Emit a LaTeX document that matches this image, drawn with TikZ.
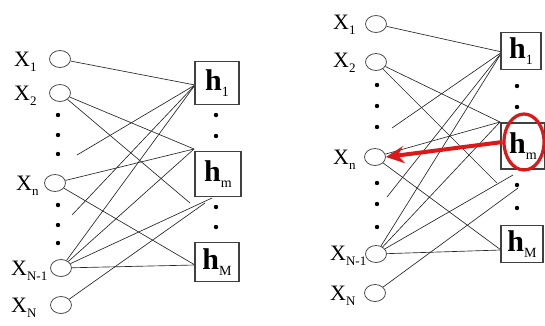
\documentclass[tikz,border=0pt]{standalone}
\usepackage{fontspec}
\setmainfont{Liberation Serif}
\usetikzlibrary{shapes.geometric,arrows.meta}
\tikzset{
  unitbox/.style={draw=black!75, line width=1.1pt, rectangle, inner sep=0pt, fill=white},
  neuron/.style={draw=black!70, line width=0.8pt, ellipse, minimum width=21pt, minimum height=17pt, inner sep=0pt},
  link/.style={draw=black!85, line width=0.65pt},
  dotmark/.style={fill=black, circle, inner sep=0pt, minimum size=4.4pt},
  xlab/.style={anchor=base west, inner sep=0pt, font=\fontsize{22}{22}\selectfont},
  hlab/.style={inner sep=0pt, font=\fontsize{30}{30}\selectfont\bfseries},
  redarrow/.style={draw={rgb,255:red,222;green,24;blue,24}, line width=4pt, -{Stealth[length=18pt,width=17pt]}},
  redring/.style={draw={rgb,255:red,222;green,24;blue,24}, line width=3.2pt}
}
\newcommand{\sbx}[1]{\raisebox{-5pt}{\fontsize{13}{13}\selectfont #1}}
\newcommand{\sbh}[1]{\raisebox{-6pt}{\fontsize{14}{14}\selectfont\mdseries #1}}
\begin{document}
\begin{tikzpicture}[x=1pt,y=-1pt]
\useasboundingbox (0,0) rectangle (545,325);
\fill[white] (0,0) rectangle (545,325);
% ================= LEFT PANEL =================
\node[neuron] (a1) at (60,59) {};
\node[neuron] (a2) at (60,93) {};
\node[neuron] (an) at (55,183) {};
\node[neuron] (aN1) at (61,268) {};
\node[neuron] (aN) at (61,305) {};
\node[xlab] (la1) at (14,66) {X\sbx{1}};
\node[xlab] (la2) at (14,100) {X\sbx{2}};
\node[xlab] (lan) at (16,190) {X\sbx{n}};
\node[xlab] (laN1) at (11,275) {X\sbx{N-1}};
\node[xlab] (laN) at (11,312) {X\sbx{N}};
\foreach \yy [count=\i] in {115,135,154,205,225,243} \node[dotmark] (ald\i) at (58,\yy) {};
\foreach \yy [count=\i] in {115,136,207,227} \node[dotmark] (ard\i) at (216,\yy) {};
\coordinate (ac1) at (195,85);
\coordinate (acm) at (194,149);
\coordinate (acM) at (195,265);
\coordinate (af1) at (77,155);
\coordinate (af2) at (72,215);
\coordinate (af3) at (190,203);
\coordinate (af4) at (212,198);
\coordinate (af5) at (205,203);
\draw[link] (a1) -- (ac1);
\draw[link] (af1) -- (ac1);
\draw[link] (af2) -- (ac1);
\draw[link] (aN1) -- (ac1);
\draw[link] (a2) -- (acm);
\draw[link] (an) -- (acm);
\draw[link] (aN1) -- (acm);
\draw[link] (a2) -- (af3);
\draw[link] (an) -- (acM);
\draw[link] (aN1) -- (af4);
\draw[link] (aN1) -- (acM);
\draw[link] (aN) -- (af5);
\node[unitbox, minimum width=44pt, minimum height=43pt] (ah1) at (217,83) {};
\node[unitbox, minimum width=46pt, minimum height=45pt] (ahm) at (218,174) {};
\node[unitbox, minimum width=44pt, minimum height=39pt] (ahM) at (217,262) {};
\node[hlab] (tah1) at (ah1) {h\sbh{1}};
\node[hlab] (tahm) at (ahm) {h\sbh{m}};
\node[hlab] (tahM) at (ahM) {h\sbh{M}};
% ================= RIGHT PANEL =================
\node[neuron] (b1) at (376,24) {};
\node[neuron] (b2) at (376,62) {};
\node[neuron] (bn) at (375,157) {};
\node[neuron] (bN1) at (376,254) {};
\node[neuron] (bN) at (375,293) {};
\node[xlab] (lb1) at (333,29) {X\sbx{1}};
\node[xlab] (lb2) at (333,67) {X\sbx{2}};
\node[xlab] (lbn) at (333,164) {X\sbx{n}};
\node[xlab] (lbN1) at (330,260) {X\sbx{N-1}};
\node[xlab] (lbN) at (330,300) {X\sbx{N}};
\foreach \yy [count=\i] in {85,106,127,183,204,227} \node[dotmark] (bld\i) at (377,\yy) {};
\foreach \yy [count=\i] in {86,107,185,208} \node[dotmark] (brd\i) at (517,\yy) {};
\coordinate (bc1) at (502,52);
\coordinate (bcm) at (500,122);
\coordinate (bcM) at (501,250);
\coordinate (bf1) at (392,128);
\coordinate (bf2) at (387,197);
\coordinate (bf3) at (497,183);
\coordinate (bf4) at (513,175);
\coordinate (bf5) at (518,188);
\draw[link] (b1) -- (bc1);
\draw[link] (bf1) -- (bc1);
\draw[link] (bf2) -- (bc1);
\draw[link] (bN1) -- (bc1);
\draw[link] (b2) -- (bcm);
\draw[link] (bn) -- (bcm);
\draw[link] (bN1) -- (bcm);
\draw[link] (b2) -- (bf3);
\draw[link] (bn) -- (bcM);
\draw[link] (bN1) -- (bf4);
\draw[link] (bN1) -- (bcM);
\draw[link] (bN) -- (bf5);
\node[unitbox, minimum width=40pt, minimum height=37pt] (bh1) at (521,51) {};
\node[unitbox, minimum width=44pt, minimum height=46pt] (bhm) at (523,146) {};
\node[unitbox, minimum width=42pt, minimum height=37pt] (bhM) at (522,244) {};
\node[hlab] (tbh1) at (bh1) {h\sbh{1}};
\node[hlab] (tbhm) at (bhm) {h\sbh{m}};
\node[hlab] (tbhM) at (bhM) {h\sbh{M}};
\node[redring, ellipse, minimum width=40pt, minimum height=56pt, inner sep=0pt] (ring) at (524,142) {};
\draw[redarrow] (ring.west) -- (bn.east);
\end{tikzpicture}
\end{document}
